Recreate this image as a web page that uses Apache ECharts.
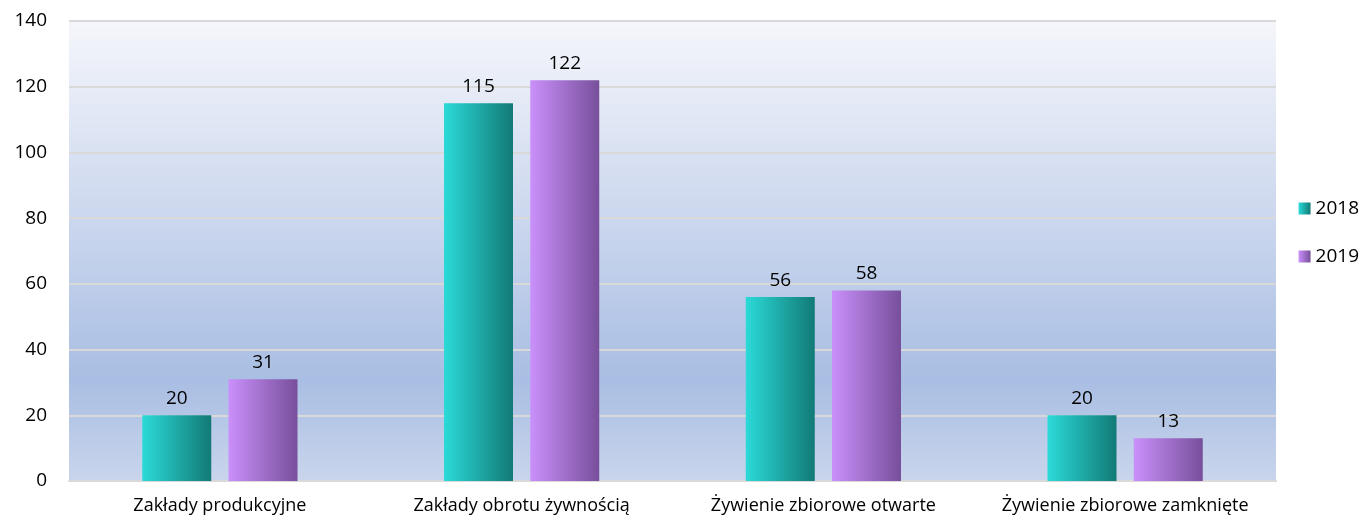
<!DOCTYPE html>
<html><head><meta charset="utf-8">
<script src="https://cdn.jsdelivr.net/npm/echarts@6/dist/echarts.min.js"></script>
<style>html,body{margin:0;padding:0;background:#fff}#c{width:1368px;height:522px}</style>
</head><body><div id="c"></div>
<script>
const categories = ['Zakłady produkcyjne', 'Zakłady obrotu żywnością', 'Żywienie zbiorowe otwarte', 'Żywienie zbiorowe zamknięte'];
const values2018 = [20, 115, 56, 20];
const values2019 = [31, 122, 58, 13];
const seriesNames = ['2018', '2019'];

const FONT = '"Open Sans", "Noto Sans", sans-serif';
function hgrad(a, b) {
  return new echarts.graphic.LinearGradient(0, 0, 1, 0, [{offset: 0, color: a}, {offset: 1, color: b}]);
}
const teal = hgrad('#2bdad8', '#127a76');
const purple = hgrad('#ca90fb', '#774f9b');

const chart = echarts.init(document.getElementById('c'));
chart.setOption({
  animation: false,
  textStyle: {fontFamily: FONT},
  grid: {
    left: 69, right: 92, top: 21, bottom: 41,
    show: true, borderWidth: 0,
    backgroundColor: new echarts.graphic.LinearGradient(0, 0, 0, 1, [
      {offset: 0, color: '#f5f6fb'},
      {offset: 0.78, color: '#a9bee3'},
      {offset: 1, color: '#c9d5ec'}
    ])
  },
  legend: {
    orient: 'vertical', right: 4, top: 194, icon: 'rect',
    itemWidth: 12, itemHeight: 12, itemGap: 29,
    textStyle: {fontSize: 19, color: '#000', fontFamily: FONT},
    data: [
      {name: seriesNames[0], itemStyle: {color: teal}},
      {name: seriesNames[1], itemStyle: {color: purple}}
    ]
  },
  xAxis: {
    type: 'category', data: categories,
    axisLine: {show: true, lineStyle: {color: '#d9d9d9', width: 2}},
    axisTick: {show: false},
    axisLabel: {interval: 0, fontSize: 18, color: '#000', margin: 16, fontFamily: FONT}
  },
  yAxis: {
    type: 'value', min: 0, max: 140, interval: 20,
    axisLine: {show: false}, axisTick: {show: false},
    splitLine: {lineStyle: {color: '#d9d9d9', width: 2}},
    axisLabel: {fontSize: 19, color: '#000', margin: 22, fontFamily: FONT}
  },
  series: [
    {name: seriesNames[0], type: 'bar', data: values2018, barWidth: 69, barGap: '25%',
     itemStyle: {color: teal},
     label: {show: true, position: 'top', distance: 7, fontSize: 19, color: '#000', fontFamily: FONT}},
    {name: seriesNames[1], type: 'bar', data: values2019, barWidth: 69, barGap: '25%',
     itemStyle: {color: purple},
     label: {show: true, position: 'top', distance: 7, fontSize: 19, color: '#000', fontFamily: FONT}}
  ]
});
</script></body></html>
